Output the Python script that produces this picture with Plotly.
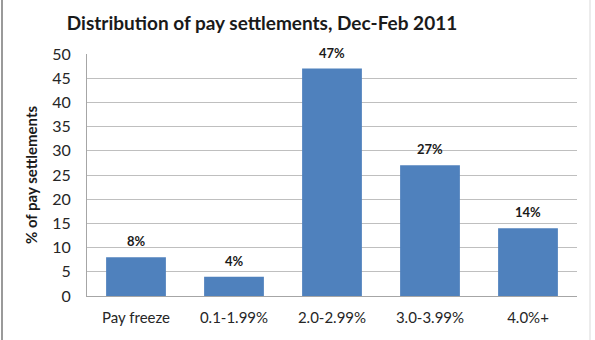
import plotly.graph_objects as go

categories = ["Pay freeze", "0.1-1.99%", "2.0-2.99%", "3.0-3.99%", "4.0%+"]
shares = [8, 4, 47, 27, 14]
y_ticks = [0, 5, 10, 15, 20, 25, 30, 35, 40, 45, 50]

FONT = "Lato, 'Open Sans', sans-serif"
BAR_COLOR = "#4F81BD"

fig = go.Figure(
    go.Bar(
        x=categories,
        y=shares,
        marker=dict(color=BAR_COLOR, line=dict(width=0)),
        hoverinfo="x+y",
    )
)

# Percentage labels above each bar
for cat, val in zip(categories, shares):
    fig.add_annotation(
        x=cat, y=val, text=f"<b>{val}%</b>",
        showarrow=False, yanchor="bottom", yshift=6,
        font=dict(family=FONT, size=13, color="#1a1a1a"),
    )

fig.update_layout(
    width=595, height=340,
    margin=dict(l=87, r=18, t=54, b=44),
    paper_bgcolor="white", plot_bgcolor="white",
    bargap=0.39,
    showlegend=False,
    font=dict(family=FONT, size=15, color="#262626"),
    title=dict(
        text="<b>Distribution of pay settlements, Dec-Feb 2011</b>",
        font=dict(family=FONT, size=19, color="#1a1a1a"),
        x=(262 - 87) / 490, xref="paper", xanchor="center",
        y=1 - 23 / 340, yref="container", yanchor="middle",
    ),
    xaxis=dict(
        showgrid=False, showline=True, linecolor="#a6a6a6", linewidth=1,
        ticks="outside", ticklen=8, tickcolor="rgba(0,0,0,0)",
        tickfont=dict(size=15, color="#262626"),
    ),
    yaxis=dict(
        range=[0, 50], tickvals=y_ticks, showgrid=True,
        gridcolor="#bfbfbf", gridwidth=1,
        showline=True, linecolor="#a6a6a6", linewidth=1,
        ticks="outside", ticklen=12, tickcolor="rgba(0,0,0,0)",
        tickfont=dict(size=16, color="#262626"),
        zeroline=False,
        title=dict(text="<b>% of pay settlements</b>", standoff=10,
                   font=dict(size=15, color="#1a1a1a")),
    ),
)

# Chart frame lines at the left and right edges
fig.add_shape(type="line", xref="paper", yref="paper",
              x0=(2 - 87) / 490, x1=(2 - 87) / 490, y0=-0.2, y1=1.25,
              line=dict(color="#9a9a9a", width=2))
fig.add_shape(type="line", xref="paper", yref="paper",
              x0=(590 - 87) / 490, x1=(590 - 87) / 490, y0=-0.2, y1=1.25,
              line=dict(color="#d9d9d9", width=1))

fig.write_html("out.html")
